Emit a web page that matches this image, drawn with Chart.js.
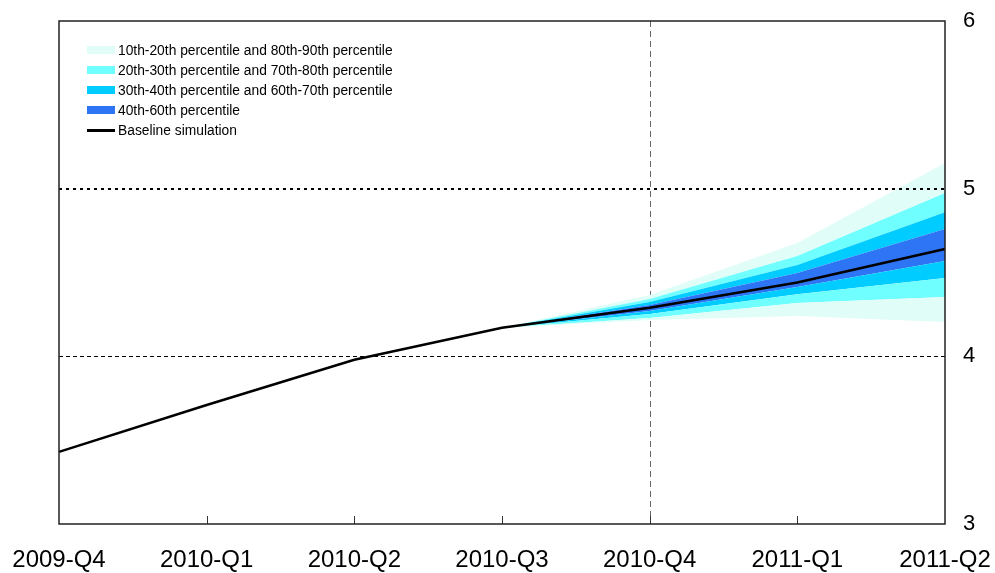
<!DOCTYPE html>
<html>
<head>
<meta charset="utf-8">
<script src="https://cdn.jsdelivr.net/npm/chart.js@4"></script>
<style>
  body { margin: 0; background: #fff; }
  #wrap { position: relative; width: 995px; height: 573px; }
  #legend { position: absolute; left: 87px; top: 41px; font: 13.8px "Liberation Sans", Arial, sans-serif; color: #000; }
  #legend div { height: 20px; line-height: 20px; white-space: nowrap; }
  #legend span { display: inline-block; width: 28px; height: 8px; margin-right: 3px; vertical-align: middle; position: relative; top: -1px; }
</style>
</head>
<body>
<div id="wrap">
  <canvas id="fanChart"></canvas>
  <div id="legend"></div>
</div>
<script>
// quarters and values
var quarters = ['2009-Q4', '2010-Q1', '2010-Q2', '2010-Q3', '2010-Q4', '2011-Q1', '2011-Q2'];
var baseline = [3.43, 3.71, 3.98, 4.17, 4.29, 4.44, 4.64];
var p10 = [null, null, null, 4.17, 4.216, 4.24, 4.205];
var p20 = [null, null, null, 4.17, 4.228, 4.318, 4.354];
var p30 = [null, null, null, 4.17, 4.252, 4.37, 4.467];
var p40 = [null, null, null, 4.17, 4.27, 4.413, 4.568];
var p60 = [null, null, null, 4.17, 4.306, 4.497, 4.76];
var p70 = [null, null, null, 4.17, 4.324, 4.544, 4.86];
var p80 = [null, null, null, 4.17, 4.342, 4.598, 4.974];
var p90 = [null, null, null, 4.17, 4.366, 4.676, 5.153];
var yTicks = [3, 4, 5, 6];

var cOuter = '#e0fdf8';
var cMid = '#6ffffe';
var cInner = '#00ccff';
var cCore = '#2e75f6';

var legendItems = [
    ['10th-20th percentile and 80th-90th percentile', cOuter],
    ['20th-30th percentile and 70th-80th percentile', cMid],
    ['30th-40th percentile and 60th-70th percentile', cInner],
    ['40th-60th percentile', cCore],
    ['Baseline simulation', null]
];
var legend = document.getElementById('legend');
legendItems.forEach(function(item) {
    var row = document.createElement('div');
    var sw = document.createElement('span');
    if (item[1]) {
        sw.style.background = item[1];
    } else {
        sw.style.height = '3px';
        sw.style.background = '#000';
    }
    row.appendChild(sw);
    row.appendChild(document.createTextNode(item[0]));
    legend.appendChild(row);
});

function band(data, fillTo, color) {
    return {
        data: data,
        fill: fillTo === null ? false : fillTo,
        backgroundColor: color,
        borderWidth: 0,
        pointRadius: 0,
        tension: 0,
        order: 1
    };
}

// frame, reference lines and inward ticks
var decor = {
    id: 'decor',
    beforeDatasetsDraw: function(chart) {
        var ctx = chart.ctx, a = chart.chartArea;
        var x = chart.scales.x, y = chart.scales.y;
        ctx.save();
        // dashed line at 4
        ctx.strokeStyle = '#000';
        ctx.lineWidth = 1;
        ctx.setLineDash([4, 3]);
        var y4 = Math.round(y.getPixelForValue(4)) + 0.5;
        ctx.beginPath(); ctx.moveTo(a.left, y4); ctx.lineTo(a.right, y4); ctx.stroke();
        // vertical dashed at 2010-Q4
        ctx.strokeStyle = '#666';
        ctx.setLineDash([6, 4]);
        var xq = Math.round(x.getPixelForValue(4)) + 0.5;
        ctx.beginPath(); ctx.moveTo(xq, a.top); ctx.lineTo(xq, a.bottom); ctx.stroke();
        ctx.restore();
    },
    afterDatasetsDraw: function(chart) {
        var ctx = chart.ctx, a = chart.chartArea;
        var x = chart.scales.x, y = chart.scales.y;
        ctx.save();
        // dotted line at 5
        ctx.strokeStyle = '#000';
        ctx.lineWidth = 2;
        ctx.setLineDash([3, 4]);
        var y5 = Math.round(y.getPixelForValue(5));
        ctx.beginPath(); ctx.moveTo(a.left, y5); ctx.lineTo(a.right, y5); ctx.stroke();
        ctx.setLineDash([]);
        // ticks on bottom axis
        ctx.lineWidth = 1;
        ctx.strokeStyle = '#333';
        for (var i = 1; i < quarters.length - 1; i++) {
            var px = Math.round(x.getPixelForValue(i)) + 0.5;
            ctx.beginPath(); ctx.moveTo(px, a.bottom); ctx.lineTo(px, a.bottom - 8); ctx.stroke();
        }
        // frame
        ctx.strokeStyle = '#222';
        ctx.lineWidth = 1.5;
        ctx.strokeRect(a.left, a.top, a.right - a.left, a.bottom - a.top);
        ctx.restore();
    }
};

var ctx = document.getElementById('fanChart').getContext('2d');
new Chart(ctx, {
    type: 'line',
    data: {
        labels: quarters,
        datasets: [
            band(p10, null, cOuter),
            band(p20, 0, cOuter),
            band(p30, 1, cMid),
            band(p40, 2, cInner),
            band(p60, 3, cCore),
            band(p70, 4, cInner),
            band(p80, 5, cMid),
            band(p90, 6, cOuter),
            {
                data: baseline,
                fill: false,
                borderColor: '#000',
                borderWidth: 2.5,
                pointRadius: 0,
                tension: 0,
                order: 0
            }
        ]
    },
    options: {
        responsive: true,
        maintainAspectRatio: false,
        animation: false,
        layout: { padding: { left: 59, top: 21, right: 0, bottom: 0 } },
        plugins: {
            legend: { display: false },
            tooltip: { enabled: false }
        },
        scales: {
            x: {
                grid: { display: false },
                border: { display: false },
                ticks: {
                    color: '#000',
                    font: { family: '"Liberation Sans", Arial, sans-serif', size: 24 },
                    maxRotation: 0,
                    autoSkip: false,
                    padding: 14
                },
                afterFit: function(scale) {
                    scale.height = 49;
                    scale.paddingLeft = 0;
                    scale.paddingRight = 0;
                }
            },
            y: {
                position: 'right',
                min: 3,
                max: 6,
                grid: { display: false },
                border: { display: false },
                afterBuildTicks: function(scale) {
                    scale.ticks = yTicks.map(function(v) { return { value: v }; });
                },
                ticks: {
                    color: '#000',
                    font: { family: '"Liberation Sans", Arial, sans-serif', size: 22 },
                    padding: 10
                },
                afterFit: function(scale) {
                    scale.width = 50;
                    scale.paddingTop = 0;
                    scale.paddingBottom = 0;
                }
            }
        }
    },
    plugins: [decor]
});
</script>
</body>
</html>
